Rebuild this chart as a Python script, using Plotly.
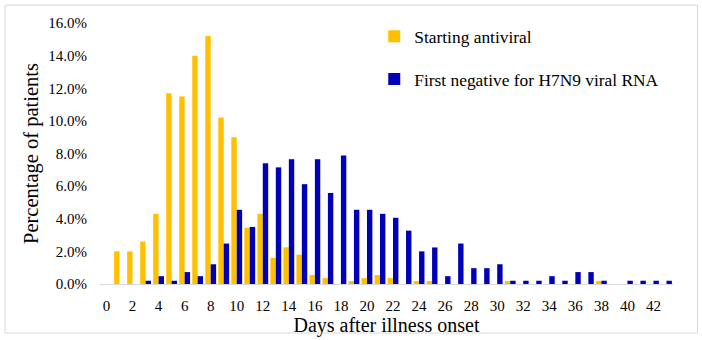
import plotly.graph_objects as go

days = list(range(0, 44))
starting_antiviral = [
    0, 2.0, 2.0, 2.6, 4.3, 11.7, 11.5, 14.0, 15.2, 10.2,
    9.0, 3.45, 4.3, 1.6, 2.25, 1.8, 0.55, 0.36, 0, 0.18,
    0.36, 0.55, 0.36, 0, 0.18, 0.18, 0, 0, 0, 0,
    0, 0.18, 0, 0, 0, 0, 0, 0, 0.18, 0,
    0, 0, 0, 0,
]
first_negative = [
    0, 0, 0, 0.2, 0.48, 0.2, 0.73, 0.48, 1.21, 2.48,
    4.55, 3.5, 7.4, 7.15, 7.65, 6.12, 7.65, 5.58, 7.88, 4.55,
    4.55, 4.3, 4.06, 3.27, 2.0, 2.24, 0.48, 2.48, 0.97, 0.97,
    1.21, 0.2, 0.2, 0.2, 0.48, 0.2, 0.73, 0.73, 0.2, 0,
    0.2, 0.2, 0.2, 0.2,
]
tick_vals = list(range(0, 43, 2))
y_ticks = [0, 2, 4, 6, 8, 10, 12, 14, 16]
y_tick_text = [f"{v:.1f}%" for v in y_ticks]

font_family = "Liberation Serif, Times New Roman, serif"

fig = go.Figure()
fig.add_trace(go.Bar(x=days, y=starting_antiviral, name="Starting antiviral",
                     marker=dict(color="#FFC000", line=dict(width=0)),
                     legendgroup="a"))
fig.add_trace(go.Bar(x=days, y=first_negative, name="First negative for H7N9 viral RNA",
                     marker=dict(color="#0000B8", line=dict(width=0)),
                     legendgroup="b"))

L, R, T, B = 99.5, 29, 22.5, 54
W = 702 - L - R
H = 340 - T - B

def px_x(p):
    return (p - L) / W

def px_y(p):
    return (340 - B - p) / H

fig.update_layout(
    width=702, height=340,
    margin=dict(l=L, r=R, t=T, b=B, pad=0),
    paper_bgcolor="white", plot_bgcolor="white",
    barmode="group", bargap=0.17, bargroupgap=0,
    font=dict(family=font_family, color="#000000"),
    legend=dict(x=px_x(374), y=px_y(18), xanchor="left", yanchor="top",
                font=dict(size=17.4, family=font_family),
                tracegroupgap=17, bgcolor="rgba(0,0,0,0)",
                traceorder="grouped"),
    shapes=[dict(type="rect", xref="paper", yref="paper",
                 x0=px_x(4.5), x1=px_x(697.5), y0=px_y(335.5), y1=px_y(4.5),
                 line=dict(color="#d9d9d9", width=1), fillcolor="rgba(0,0,0,0)",
                 layer="below")],
)
fig.update_xaxes(
    range=[-0.5, 43.5], tickmode="array", tickvals=tick_vals,
    ticktext=[str(v) for v in tick_vals],
    showline=True, linecolor="#d9d9d9", linewidth=1,
    showgrid=False, zeroline=False, ticks="",
    tickfont=dict(size=15, family=font_family),
    ticklabelstandoff=8,
    title=dict(text="Days after illness onset", font=dict(size=20, family=font_family), standoff=0),
)
fig.update_yaxes(
    range=[0, 16], tickmode="array", tickvals=y_ticks, ticktext=y_tick_text,
    showline=False, showgrid=False, zeroline=False, ticks="",
    tickfont=dict(size=15, family=font_family),
    ticklabelstandoff=12,
    title=dict(text="Percentage of patients", font=dict(size=20.5, family=font_family), standoff=4),
)

fig.write_html("out.html")
